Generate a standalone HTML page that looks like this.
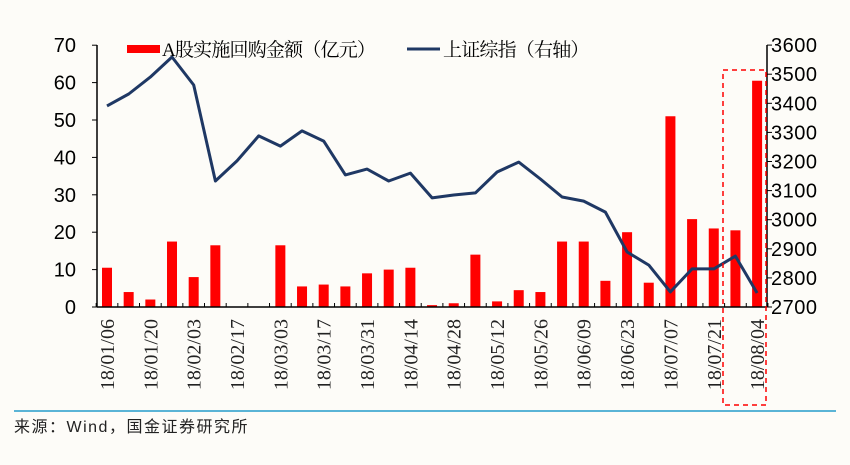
<!DOCTYPE html>
<html><head><meta charset="utf-8"><style>
html,body{margin:0;padding:0;background:#fdfcf8;}
svg{display:block}
</style></head><body>
<svg width="850" height="465" viewBox="0 0 850 465" xmlns="http://www.w3.org/2000/svg">
<rect width="850" height="465" fill="#fdfcf8"/>
<g id="g"></g>
<script><![CDATA[
var bars=[10.5,4,2,17.5,8,16.5,0,0,16.5,5.5,6,5.5,9,10,10.5,0.5,1,14,1.5,4.5,4,17.5,17.5,7,20,6.5,51,23.5,21,20.5,60.5];
var line=[3391,3432,3490,3559,3463,3133,3202,3288,3253,3305,3270,3154,3174,3133,3160,3075,3085,3092,3164,3198,3140,3078,3064,3026,2889,2844,2752,2831,2831,2875,2748];
var labels=["18/01/06","18/01/20","18/02/03","18/02/17","18/03/03","18/03/17","18/03/31","18/04/14","18/04/28","18/05/12","18/05/26","18/06/09","18/06/23","18/07/07","18/07/21","18/08/04"];
var NS="http://www.w3.org/2000/svg",g=document.getElementById('g');
function el(t,a,txt){var e=document.createElementNS(NS,t);for(var k in a)e.setAttribute(k,a[k]);if(txt!==undefined)e.textContent=txt;g.appendChild(e);return e;}
var y0=307,py=37.4/10,x0=107,dx=21.67;
function yl(v){return y0-v*py;}function yr(v){return y0-(v-2700)*0.291;}
for(var i=0;i<bars.length;i++){if(bars[i]>0)el('rect',{x:x0+i*dx-5,y:yl(bars[i]),width:10,height:bars[i]*py,fill:'#ff0000'});}
var pts=line.map(function(v,i){return (x0+i*dx).toFixed(1)+','+yr(v).toFixed(1);}).join(' ');
el('polyline',{points:pts,fill:'none',stroke:'#1f3864','stroke-width':3,'stroke-linejoin':'round'});
el('line',{x1:97,y1:y0,x2:767,y2:y0,stroke:'#000','stroke-width':1.5});
el('line',{x1:97,y1:45,x2:97,y2:y0,stroke:'#000','stroke-width':1.5});
el('line',{x1:767,y1:45,x2:767,y2:y0,stroke:'#000','stroke-width':1.5});
for(var i=0;i<=31;i++){var x=x0+(i-0.5)*dx;el('line',{x1:x,y1:y0,x2:x,y2:y0-4,stroke:'#000','stroke-width':1});}
for(var v=0;v<=70;v+=10){var y=yl(v);el('line',{x1:92,y1:y,x2:97,y2:y,stroke:'#000'});el('text',{x:76,y:y+7,'text-anchor':'end','font-family':'Liberation Sans,sans-serif','font-size':20,fill:'#000'},v);}
for(var v=2700;v<=3600;v+=100){var y=yr(v);el('line',{x1:767,y1:y,x2:772,y2:y,stroke:'#000'});el('text',{x:771,y:y+7,'font-family':'Liberation Sans,sans-serif','font-size':20,'letter-spacing':'0.5',fill:'#000'},v);}
for(var j=0;j<labels.length;j++){var x=x0+j*2*dx+7;el('text',{x:0,y:0,transform:'translate('+x+',319) rotate(-90)','text-anchor':'end','font-family':'Liberation Serif,serif','font-size':20,fill:'#222'},labels[j]);}
el('rect',{x:127,y:45,width:33,height:8,fill:'#ff0000'});
el('text',{x:162,y:56,'font-family':'Liberation Serif,Noto Serif CJK SC,serif','font-size':19,'letter-spacing':'-0.8',fill:'#000'},'A股实施回购金额（亿元）');
el('line',{x1:407,y1:49,x2:440,y2:49,stroke:'#1f3864','stroke-width':3});
el('text',{x:443,y:56,'font-family':'Liberation Serif,Noto Serif CJK SC,serif','font-size':19,'letter-spacing':'-0.8',fill:'#000'},'上证综指（右轴）');
el('rect',{x:723,y:70,width:43,height:335,fill:'none',stroke:'#ff0000','stroke-width':1.5,'stroke-dasharray':'5,4'});
el('line',{x1:14,y1:411,x2:836,y2:411,stroke:'#5ab4d6','stroke-width':2});
el('text',{x:14,y:432,'font-family':'Liberation Sans,Noto Sans CJK SC,sans-serif','font-size':16,'letter-spacing':'1.5',fill:'#222'},'来源：Wind，国金证券研究所');
]]></script>
</svg>
</body></html>
